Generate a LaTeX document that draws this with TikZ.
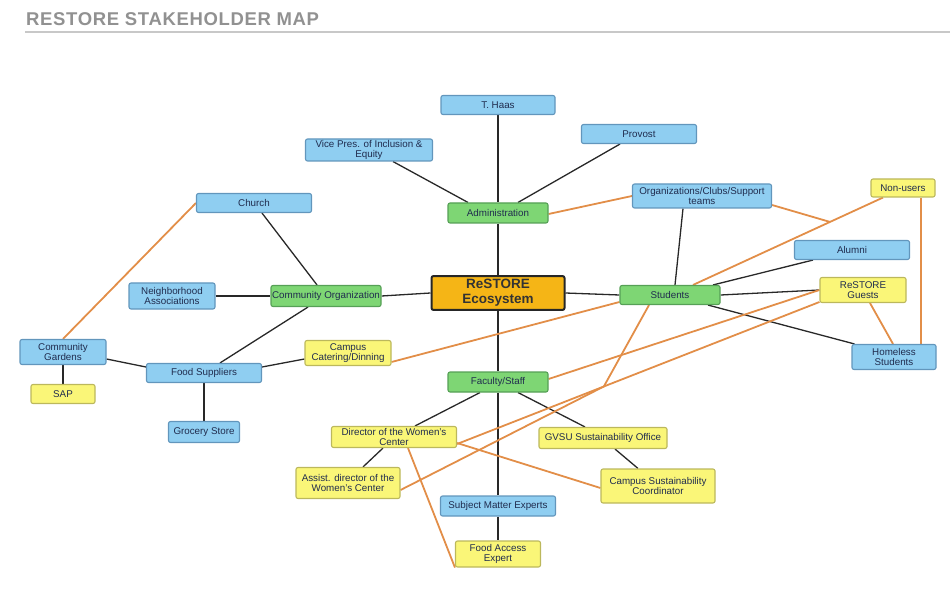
\documentclass[tikz,border=0pt]{standalone}
\usepackage{fontspec}
\setmainfont{Liberation Sans}
\newfontfamily\titlefont[LetterSpace=3.5]{Liberation Sans}
\pgfdeclarelayer{bg}
\pgfsetlayers{bg,main}

\definecolor{bluefill}{RGB}{143,206,241}
\definecolor{blueline}{RGB}{98,150,188}
\definecolor{greenfill}{RGB}{126,214,116}
\definecolor{greenline}{RGB}{86,160,86}
\definecolor{yellowfill}{RGB}{250,246,120}
\definecolor{yellowline}{RGB}{188,184,92}
\definecolor{ecofill}{RGB}{245,181,22}
\definecolor{boxtext}{RGB}{32,44,78}
\definecolor{linkorange}{RGB}{226,142,72}
\definecolor{linkdark}{RGB}{40,40,40}
\definecolor{titlegray}{RGB}{145,145,145}
\definecolor{rulegray}{RGB}{200,200,200}

\begin{document}
\begin{tikzpicture}[x=1pt,y=-1pt,
  box/.style={rectangle, rounded corners=2pt, line width=1.1pt, inner sep=1pt,
    align=center, text=boxtext, font=\fontsize{9.8}{10.5}\selectfont},
  bluebox/.style={box, fill=bluefill, draw=blueline},
  greenbox/.style={box, fill=greenfill, draw=greenline},
  yellowbox/.style={box, fill=yellowfill, draw=yellowline},
  ecobox/.style={rectangle, rounded corners=2pt, line width=2pt, draw=black!85,
    fill=ecofill, align=center, text=black!80,
    font=\fontsize{13.5}{15}\selectfont\bfseries},
  sz/.style 2 args={minimum width=#1pt, minimum height=#2pt},
  tie/.style={draw=linkdark, line width=1.3pt},
  cross/.style={draw=linkorange, line width=1.8pt}]

\useasboundingbox (0,0) rectangle (950,612);

% heading and rule
\node[anchor=base west, inner sep=0pt, text=titlegray,
  font=\fontsize{18.5}{20}\selectfont\titlefont\bfseries] (title) at (26,26)
  {RESTORE STAKEHOLDER MAP};
\coordinate (ruleL) at (25,32);
\coordinate (ruleR) at (950,32);
\draw[rulegray, line width=1.2pt] (ruleL) -- (ruleR);

% central hub
\node[ecobox, sz={133}{33}] (eco) at (498,293) {ReSTORE\\Ecosystem};

% top branch
\node[bluebox, sz={114}{19}] (thaas) at (498,105) {T. Haas};
\node[bluebox, sz={127}{22}] (vp) at (369,150) {Vice Pres. of Inclusion \&\\Equity};
\node[bluebox, sz={115}{19}] (provost) at (639,134) {Provost};
\node[greenbox, sz={100}{20}] (adm) at (498,213) {Administration};

% left branch
\node[bluebox, sz={115}{19}] (church) at (254,203) {Church};
\node[bluebox, sz={86}{26}] (neigh) at (172,296) {Neighborhood\\Associations};
\node[greenbox, sz={110}{21}] (comorg) at (326,296) {Community Organization};
\node[bluebox, sz={86}{25}] (gardens) at (63,352) {Community\\Gardens};
\node[yellowbox, sz={64}{19}] (sap) at (63,394) {SAP};
\node[bluebox, sz={115}{19}] (food) at (204,373) {Food Suppliers};
\node[bluebox, sz={71}{21}] (grocery) at (204,432) {Grocery Store};
\node[yellowbox, sz={86}{25}] (catering) at (348,353) {Campus\\Catering/Dinning};

% right branch
\node[bluebox, sz={139}{24}] (org) at (702,196) {Organizations/Clubs/Support\\teams};
\node[yellowbox, sz={64}{18}] (nonusers) at (903,188) {Non-users};
\node[bluebox, sz={115}{19}] (alumni) at (852,250) {Alumni};
\node[greenbox, sz={100}{19}] (students) at (670,295) {Students};
\node[yellowbox, sz={86}{25}] (guests) at (863,290) {ReSTORE\\Guests};
\node[bluebox, sz={84}{25}] (homeless) at (894,357) {Homeless\\Students};

% bottom branch
\node[greenbox, sz={100}{20}] (fac) at (498,382) {Faculty/Staff};
\node[yellowbox, sz={125}{21}] (director) at (394,437) {Director of the Women's\\Center};
\node[yellowbox, sz={128}{21}] (gvsu) at (603,438) {GVSU Sustainability Office};
\node[yellowbox, sz={104}{31}] (assist) at (348,483) {Assist. director of the\\Women's Center};
\node[yellowbox, sz={114}{34}] (coord) at (658,486) {Campus Sustainability\\Coordinator};
\node[bluebox, sz={115}{20}] (sme) at (498,506) {Subject Matter Experts};
\node[yellowbox, sz={85}{26}] (foodacc) at (498,554) {Food Access\\Expert};

% meeting points of joined links
\path ([xshift=-20pt]nonusers.south) -- coordinate[pos=0.279] (j1) ([xshift=23pt]students.north);
\path ([yshift=-12pt]guests.west) -- coordinate[pos=0.595] (j2) ([yshift=-7pt]director.east);

\begin{pgfonlayer}{bg}
% direct relations
\draw[tie] (thaas.south) -- (adm.north);
\draw[tie] ([xshift=24pt]vp.south) -- ([xshift=-30pt]adm.north);
\draw[tie] ([xshift=-19pt]provost.south) -- ([xshift=20pt]adm.north);
\draw[tie] (adm.south) -- (eco.north);
\draw[tie] (eco.south) -- (fac.north);
\draw[tie] (eco.west) -- (comorg.east);
\draw[tie] (eco.east) -- (students.west);
\draw[tie] ([xshift=8pt]church.south) -- ([xshift=-9pt]comorg.north);
\draw[tie] (neigh.east) -- (comorg.west);
\draw[tie] ([xshift=-18pt]comorg.south) -- ([xshift=16pt]food.north);
\draw[tie] ([yshift=-7pt]gardens.east) -- ([yshift=6pt]food.west);
\draw[tie] ([yshift=-6pt]catering.west) -- ([yshift=6pt]food.east);
\draw[tie] (gardens.south) -- (sap.north);
\draw[tie] (food.south) -- (grocery.north);
\draw[tie] ([xshift=-18pt]fac.south) -- ([xshift=21pt]director.north);
\draw[tie] (fac.south) -- (sme.north);
\draw[tie] (sme.south) -- (foodacc.north);
\draw[tie] ([xshift=20pt]fac.south) -- ([xshift=-18pt]gvsu.north);
\draw[tie] ([xshift=12pt]gvsu.south) -- ([xshift=-20pt]coord.north);
\draw[tie] ([xshift=-11pt]director.south) -- ([xshift=15pt]assist.north);
\draw[tie] ([xshift=-19pt]org.south) -- ([xshift=5pt]students.north);
\draw[tie] ([xshift=43pt]students.north) -- ([xshift=-39pt]alumni.south);
\draw[tie] (students.east) -- (guests.west);
\draw[tie] ([xshift=38pt]students.south) -- ([xshift=3pt]homeless.north west);

% cross relations
\draw[cross] (church.west) -- (gardens.north);
\draw[cross] ([yshift=-1pt]adm.east) -- (org.west);
\draw[cross] ([yshift=-9pt]org.east) -- (j1);
\draw[cross] ([xshift=-20pt]nonusers.south) -- ([xshift=23pt]students.north);
\draw[cross] ([xshift=18pt]nonusers.south) -- ([xshift=27pt]homeless.north);
\draw[cross] ([xshift=7pt]guests.south) -- ([xshift=-1pt]homeless.north);
\draw[cross] ([yshift=-9pt]catering.east) -- ([yshift=-7pt]students.west);
\draw[cross] (guests.west) -- ([yshift=3pt]fac.east);
\draw[cross] ([yshift=-12pt]guests.west) -- ([yshift=-7pt]director.east);
\draw[cross] ([xshift=-21pt]students.south) -- (j2) -- ([yshift=-7pt]assist.east);
\draw[cross] ([yshift=-6pt]director.east) -- ([yshift=-2pt]coord.west);
\draw[cross] ([xshift=14pt]director.south) -- (foodacc.south west);
\end{pgfonlayer}
\end{tikzpicture}
\end{document}
